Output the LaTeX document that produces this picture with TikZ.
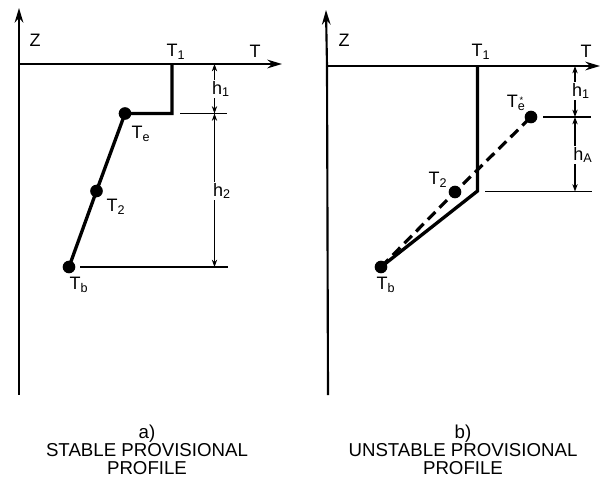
\documentclass[tikz,border=0pt]{standalone}
\usepackage{fontspec}
\setmainfont{Liberation Sans}
\usetikzlibrary{arrows.meta}
\newcommand\lbsub[1]{\textsubscript{#1}}
\tikzset{
  axis/.style={line width=1.6pt,-{Stealth[length=11pt,width=6.5pt]}},
  prof/.style={line width=2.5pt,line join=miter},
  stub/.style={line width=1.1pt},
  dim/.style={line width=0.9pt,{Stealth[length=5.5pt,width=4pt]}-{Stealth[length=5.5pt,width=4pt]}},
  dot/.style={circle,fill=black,inner sep=0pt,minimum size=9.5pt},
  lbl/.style={font=\fontsize{13.5}{15}\selectfont,inner sep=0.5pt},
  dimlbl/.style={font=\fontsize{13.5}{15}\selectfont,fill=white,inner sep=1pt},
  captxt/.style={font=\fontsize{14}{13.6}\selectfont,align=center}
}
\begin{document}
\begin{tikzpicture}[x=0.75pt,y=-0.75pt]
\useasboundingbox (0,0) rectangle (603,485);
% ---------------- panel a ----------------
\coordinate (aO) at (19,64);
\coordinate (aZtop) at (19,8);
\coordinate (aZbot) at (19,395);
\coordinate (aTend) at (282,64);
\draw[line width=1.6pt] (aO) -- (aZbot);
\draw[axis] (aO) -- (aZtop);
\draw[axis] (aO) -- (aTend);
\node[lbl] (aZ) at (35,40) {Z};
\node[lbl] (aTlab) at (255,51) {T};
\node[lbl] (aT1lab) at (176,52) {T\lbsub{1}};
\coordinate (aT1) at (172,64);
\coordinate (aC) at (172,113.5);
\node[dot] (aTe) at (125,113.5) {};
\node[dot] (aT2) at (96.5,191) {};
\node[dot] (aTb) at (69,267) {};
\draw[prof] (aT1) -- (aC) -- (aTe.center) -- (aT2.center) -- (aTb.center);
\node[lbl] at (141,134) {T\lbsub{e}};
\node[lbl] at (116,207) {T\lbsub{2}};
\node[lbl] at (79,285) {T\lbsub{b}};
\coordinate (aS1a) at (180,113.5);
\coordinate (aS1b) at (227,113.5);
\draw[stub] (aS1a) -- (aS1b);
\coordinate (aS2a) at (80,267);
\coordinate (aS2b) at (228,267);
\draw[stub] (aS2a) -- (aS2b);
\coordinate (aD0) at (214.5,64);
\coordinate (aD1) at (214.5,113.5);
\coordinate (aD2) at (214.5,267);
\draw[dim] (aD0) -- (aD1);
\draw[dim] (aD1) -- (aD2);
\node[dimlbl] at (221,89) {h\lbsub{1}};
\node[dimlbl] at (222,191) {h\lbsub{2}};
\node[captxt] at (147,449.5) {a)\\STABLE PROVISIONAL\\PROFILE};
% ---------------- panel b ----------------
\coordinate (bO) at (327,66);
\coordinate (bZtop) at (326,10);
\coordinate (bZbot) at (328,395);
\coordinate (bTend) at (600,66);
\draw[line width=1.6pt] (bO) -- (bZbot);
\draw[axis] (bO) -- (bZtop);
\draw[axis] (bO) -- (bTend);
\node[lbl] (bZ) at (344,40) {Z};
\node[lbl] (bTlab) at (586,51) {T};
\node[lbl] (bT1lab) at (481,52) {T\lbsub{1}};
\coordinate (bT1) at (477.5,66);
\coordinate (bC) at (477.5,191);
\node[dot] (bTe) at (531,117) {};
\node[dot] (bT2) at (455,192) {};
\node[dot] (bTb) at (381,267) {};
\draw[prof] (bT1) -- (bC) -- (bTb.center);
\draw[line width=2.4pt,dash pattern=on 8pt off 4.5pt] (bTb.center) -- (bT2.center) -- (bTe.center);
\node[lbl] (bTelab) at (515,103) {T\makebox[0pt][l]{\textsubscript{e}}\raisebox{0.22em}{\fontsize{7}{7}\selectfont\hspace{0.2em}*}\hspace{0.15em}};
\node[lbl] at (438,180) {T\lbsub{2}};
\node[lbl] at (386,285) {T\lbsub{b}};
\coordinate (bS1a) at (543,117);
\coordinate (bS1b) at (591,117);
\draw[stub] (bS1a) -- (bS1b);
\coordinate (bS2a) at (485,191.5);
\coordinate (bS2b) at (592,191.5);
\draw[stub] (bS2a) -- (bS2b);
\coordinate (bD0) at (575,66);
\coordinate (bD1) at (575,117);
\coordinate (bD2) at (575,191.5);
\draw[dim] (bD0) -- (bD1);
\draw[dim] (bD1) -- (bD2);
\node[dimlbl] at (581,91) {h\lbsub{1}};
\node[dimlbl] at (583,155) {h\lbsub{A}};
\node[captxt] at (463,449.5) {b)\\UNSTABLE PROVISIONAL\\PROFILE};
\end{tikzpicture}
\end{document}
